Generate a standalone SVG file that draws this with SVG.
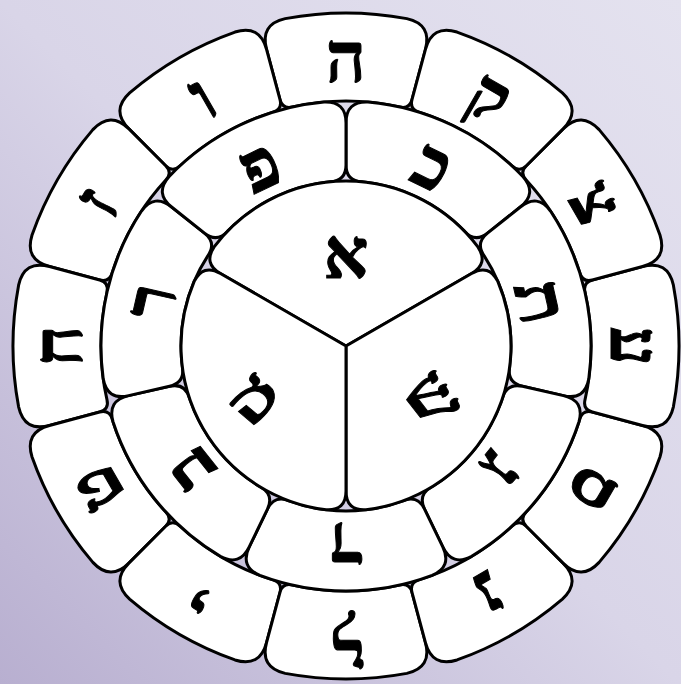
<svg xmlns="http://www.w3.org/2000/svg" width="681" height="684" viewBox="0 0 681 684">
<defs>
<linearGradient id="bg" x1="1" y1="0" x2="0" y2="1">
<stop offset="0" stop-color="#e4e2ef"/>
<stop offset="0.5" stop-color="#d9d5e8"/>
<stop offset="1" stop-color="#b8afd0"/>
</linearGradient>
<path id="oc" d="M285.16 18.60 A333 333 0 0 1 406.84 18.60 Q432.19 24.35 425.46 49.46 L412.00 99.69 Q409.41 109.35 399.70 106.96 A245 245 0 0 0 292.30 106.96 Q282.59 109.35 280.00 99.69 L266.54 49.46 Q259.81 24.35 285.16 18.60 Z"/>
<path id="mc" d="M259.92 116.62 A245 245 0 0 1 432.08 116.62 Q452.30 125.26 442.76 145.08 L424.53 182.92 Q417.59 197.34 402.86 191.11 A165 165 0 0 0 289.14 191.11 Q274.41 197.34 267.47 182.92 L249.24 145.08 Q239.70 125.26 259.92 116.62 Z"/>
<path id="cc" d="M346 346 L220.43 273.5 Q203.11 263.5 214.13 246.83 A165 165 0 0 1 477.87 246.83 Q488.89 263.5 471.57 273.5 Z"/>
</defs>
<style>
.cell{fill:#fff;stroke:#000;stroke-width:3;stroke-linejoin:round}
.l{font-family:"Liberation Serif","DejaVu Sans",serif;font-weight:bold;font-size:70px;text-anchor:middle;dominant-baseline:central;fill:#000;stroke:#000;stroke-width:1}
</style>
<rect width="681" height="684" fill="url(#bg)"/>
<g id="outer-ring">
<g id="he" transform="rotate(0 346 346)"><use href="#oc" class="cell"/><text class="l" x="346" y="58">ה</text></g>
<g id="vav" transform="rotate(-30 346 346)"><use href="#oc" class="cell"/><text class="l" x="346" y="58">ו</text></g>
<g id="zayin" transform="rotate(-60 346 346)"><use href="#oc" class="cell"/><text class="l" x="346" y="58">ז</text></g>
<g id="chet" transform="rotate(-90 346 346)"><use href="#oc" class="cell"/><text class="l" x="346" y="58">ח</text></g>
<g id="tet" transform="rotate(-120 346 346)"><use href="#oc" class="cell"/><text class="l" x="346" y="58">ט</text></g>
<g id="yod" transform="rotate(-150 346 346)"><use href="#oc" class="cell"/><text class="l" x="346" y="58">י</text></g>
<g id="lamed" transform="rotate(180 346 346)"><use href="#oc" class="cell"/><text class="l" x="346" y="58">ל</text></g>
<g id="nun" transform="rotate(150 346 346)"><use href="#oc" class="cell"/><text class="l" x="346" y="58">נ</text></g>
<g id="samekh" transform="rotate(120 346 346)"><use href="#oc" class="cell"/><text class="l" x="346" y="58">ס</text></g>
<g id="ayin" transform="rotate(90 346 346)"><use href="#oc" class="cell"/><text class="l" x="346" y="58">ע</text></g>
<g id="tsadi" transform="rotate(60 346 346)"><use href="#oc" class="cell"/><text class="l" x="346" y="58">צ</text></g>
<g id="qof" transform="rotate(30 346 346)"><use href="#oc" class="cell"/><text class="l" x="346" y="58">ק</text></g>
</g>
<g id="middle-ring">
<g id="kaf" transform="rotate(25.714 346 346)"><use href="#mc" class="cell"/><text class="l" x="346" y="146">כ</text></g>
<g id="tav" transform="rotate(77.143 346 346)"><use href="#mc" class="cell"/><text class="l" x="346" y="146">ת</text></g>
<g id="gimel" transform="rotate(128.571 346 346)"><use href="#mc" class="cell"/><text class="l" x="346" y="146">ג</text></g>
<g id="dalet" transform="rotate(180 346 346)"><use href="#mc" class="cell"/><text class="l" x="346" y="146">ד</text></g>
<g id="bet" transform="rotate(231.429 346 346)"><use href="#mc" class="cell"/><text class="l" x="346" y="146">ב</text></g>
<g id="resh" transform="rotate(282.857 346 346)"><use href="#mc" class="cell"/><text class="l" x="346" y="146">ר</text></g>
<g id="pe" transform="rotate(-25.714 346 346)"><use href="#mc" class="cell"/><text class="l" x="346" y="146">פ</text></g>
</g>
<g id="center">
<g id="alef" transform="rotate(0 346 346)"><use href="#cc" class="cell"/><text class="l" x="346" y="254">א</text></g>
<g id="shin" transform="rotate(120 346 346)"><use href="#cc" class="cell"/><text class="l" x="346" y="244" transform="rotate(-68 346 244)">ש</text></g>
<g id="mem" transform="rotate(-120 346 346)"><use href="#cc" class="cell"/><text class="l" x="346" y="244" transform="rotate(160 346 244)">מ</text></g>
</g>
</svg>
